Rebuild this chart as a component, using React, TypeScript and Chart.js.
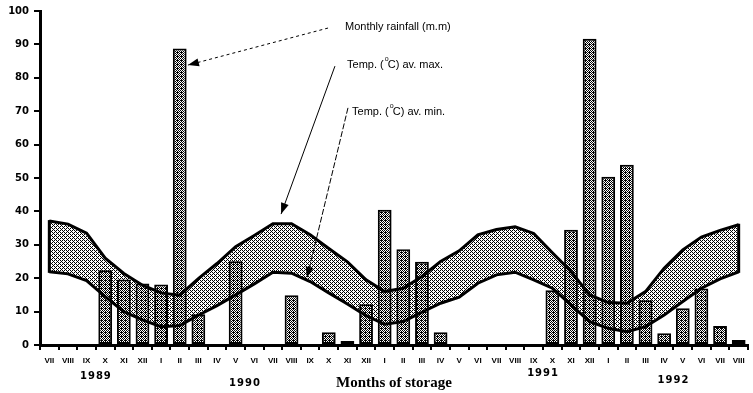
import React, { useEffect, useRef } from "react";
import { Chart, registerables } from "chart.js";

Chart.register(...registerables);

// ---- data ----
const months = [
  "VII", "VIII", "IX", "X", "XI", "XII",
  "I", "II", "III", "IV", "V", "VI", "VII", "VIII", "IX", "X", "XI", "XII",
  "I", "II", "III", "IV", "V", "VI", "VII", "VIII", "IX", "X", "XI", "XII",
  "I", "II", "III", "IV", "V", "VI", "VII", "VIII",
];
const years = ["1989", "1990", "1991", "1992"];
const yearAt = [2.5, 10.5, 26.5, 33.5];

const rainfall = [
  null, null, null, 22.4, 19.6, 18.4,
  18.1, 88.8, 9.2, 0.3, 25.1, 0.3, null, 14.9, null, 3.8, 1.2, 12.2,
  40.5, 28.7, 24.9, 3.8, 0.3, null, null, null, null, 16.4, 34.5, 91.7,
  50.4, 54.0, 13.4, 3.5, 11.0, 16.9, 5.7, 1.5,
];
const tempMax = [
  37.1, 36.2, 33.5, 26.0, 21.4, 17.9,
  15.6, 14.9, 19.9, 24.4, 29.4, 32.8, 36.3, 36.3, 33.0, 28.9, 24.9, 19.5,
  16.0, 17.0, 20.5, 25.0, 28.2, 33.0, 34.6, 35.4, 33.4, 27.6, 22.0, 15.0,
  12.7, 12.5, 16.0, 23.0, 28.5, 32.3, 34.3, 36.0,
];
const tempMin = [
  21.9, 21.3, 19.3, 14.5, 10.0, 7.5,
  5.5, 5.8, 8.9, 11.8, 15.0, 18.3, 21.8, 21.5, 19.0, 15.6, 12.3, 8.8,
  6.2, 7.0, 9.8, 12.5, 14.3, 18.5, 21.0, 21.8, 19.5, 17.0, 12.0, 7.0,
  5.0, 4.0, 5.5, 9.0, 13.0, 17.0, 19.8, 21.9,
];

const titleText = "Months of storage";
const rainLabel = "Monthly rainfall (m.m)";
const maxLabel = ["Temp. (", "o", "C) av. max."];
const minLabel = ["Temp. (", "o", "C) av. min."];

// annotation anchors (data units: category index, value)
const callouts = [
  { text: [rainLabel, "", ""], at: [15.87, 95.2], tail: [14.96, 94.9], tip: [7.44, 83.8], dash: [3, 3] },
  { text: maxLabel, at: [15.98, 83.8], tail: [15.33, 83.5], tip: [12.44, 39.2], dash: [] },
  { text: minLabel, at: [16.25, 69.8], tail: [16.03, 71.0], tip: [13.83, 20.1], dash: [6, 2] },
];

const bayer = [
  [0, 32, 8, 40, 2, 34, 10, 42],
  [48, 16, 56, 24, 50, 18, 58, 26],
  [12, 44, 4, 36, 14, 46, 6, 38],
  [60, 28, 52, 20, 62, 30, 54, 22],
  [3, 35, 11, 43, 1, 33, 9, 41],
  [51, 19, 59, 27, 49, 17, 57, 25],
  [15, 47, 7, 39, 13, 45, 5, 37],
  [63, 31, 55, 23, 61, 29, 53, 21],
];

function makePattern(density: number): CanvasPattern | string {
  const c = document.createElement("canvas");
  c.width = 8;
  c.height = 8;
  const g = c.getContext("2d");
  if (!g) return "#999";
  g.fillStyle = "#fff";
  g.fillRect(0, 0, 8, 8);
  g.fillStyle = "#000";
  for (let yy = 0; yy < 8; yy++)
    for (let xx = 0; xx < 8; xx++)
      if (bayer[yy][xx] < density * 64) g.fillRect(xx, yy, 1, 1);
  return g.createPattern(c, "repeat") || "#999";
}

const annotPlugin = {
  id: "annot",
  afterDatasetsDraw(chart: any) {
    const ctx = chart.ctx;
    const mMax = chart.getDatasetMeta(1).data;
    const mMin = chart.getDatasetMeta(2).data;
    ctx.save();
    ctx.strokeStyle = "#000";
    ctx.lineWidth = 3;
    [0, mMax.length - 1].forEach((i) => {
      ctx.beginPath();
      ctx.moveTo(mMax[i].x, mMax[i].y - 1);
      ctx.lineTo(mMin[i].x, mMin[i].y + 1);
      ctx.stroke();
    });
    ctx.restore();
  },
  afterDraw(chart: any) {
    const ctx = chart.ctx;
    const x = chart.scales.x;
    const y = chart.scales.y;
    const area = chart.chartArea;
    const px = (v: number) => x.getPixelForValue(v);
    const py = (v: number) => y.getPixelForValue(v);
    ctx.save();
    ctx.fillStyle = "#000";
    ctx.strokeStyle = "#000";

    ctx.font = "bold 10px 'DejaVu Sans'";
    ctx.textAlign = "center";
    ctx.textBaseline = "middle";
    try { (ctx as any).letterSpacing = "1px"; } catch (e) {}
    const yearY = [376, 383, 373, 380];
    years.forEach((t, i) => ctx.fillText(t, px(yearAt[i]), yearY[i]));
    try { (ctx as any).letterSpacing = "0px"; } catch (e) {}

    ctx.font = "bold 15px 'Liberation Serif'";
    ctx.fillText(titleText, (area.left + area.right) / 2, 383);

    callouts.forEach((c) => {
      const tx = px(c.tail[0]), ty = py(c.tail[1]);
      const hx = px(c.tip[0]), hy = py(c.tip[1]);
      ctx.lineWidth = 1;
      ctx.setLineDash(c.dash);
      ctx.beginPath();
      ctx.moveTo(tx, ty);
      ctx.lineTo(hx, hy);
      ctx.stroke();
      ctx.setLineDash([]);
      const ang = Math.atan2(hy - ty, hx - tx);
      const L = 11, W = 4;
      ctx.beginPath();
      ctx.moveTo(hx, hy);
      ctx.lineTo(hx - L * Math.cos(ang) + W * Math.sin(ang), hy - L * Math.sin(ang) - W * Math.cos(ang));
      ctx.lineTo(hx - L * Math.cos(ang) - W * Math.sin(ang), hy - L * Math.sin(ang) + W * Math.cos(ang));
      ctx.closePath();
      ctx.fill();

      let lx = px(c.at[0]);
      const ly = py(c.at[1]);
      ctx.textAlign = "left";
      ctx.textBaseline = "middle";
      ctx.font = "11px 'Liberation Sans'";
      ctx.fillText(c.text[0], lx, ly);
      lx += ctx.measureText(c.text[0]).width;
      if (c.text[1]) {
        ctx.font = "7px 'Liberation Sans'";
        ctx.fillText(c.text[1], lx + 1, ly - 6);
        lx += 4;
        ctx.font = "11px 'Liberation Sans'";
        ctx.fillText(c.text[2], lx, ly);
      }
    });
    ctx.restore();
  },
};

export default function App() {
  const ref = useRef<HTMLCanvasElement | null>(null);
  useEffect(() => {
    if (!ref.current) return;
    const barFill = makePattern(0.56);
    const bandFill = makePattern(0.36);
    const chart = new Chart(ref.current, {
      type: "bar",
      data: {
        labels: months,
        datasets: [
          {
            type: "bar",
            data: rainfall as any,
            backgroundColor: barFill as any,
            borderColor: "#000",
            borderWidth: 2,
            borderSkipped: false,
            barPercentage: 0.74,
            categoryPercentage: 1,
            order: 2,
          },
          {
            type: "line",
            data: tempMax,
            borderColor: "#000",
            borderWidth: 3,
            pointRadius: 0,
            tension: 0,
            fill: "+1",
            backgroundColor: bandFill as any,
            order: 1,
          },
          {
            type: "line",
            data: tempMin,
            borderColor: "#000",
            borderWidth: 3,
            pointRadius: 0,
            tension: 0,
            fill: false,
            order: 0,
          },
        ],
      },
      options: {
        responsive: false,
        animation: false,
        devicePixelRatio: 1,
        layout: { padding: { top: 11, right: 5, left: 0, bottom: 0 } },
        plugins: {
          legend: { display: false },
          tooltip: { enabled: false },
          filler: { drawTime: "beforeDatasetsDraw" } as any,
        },
        scales: {
          x: {
            offset: true,
            afterFit: (s: any) => { s.height = 48; },
            grid: {
              display: true,
              offset: true,
              drawOnChartArea: false,
              drawTicks: true,
              tickLength: 5,
              color: "#000",
              lineWidth: 2,
            },
            border: { display: true, color: "#000", width: 3 },
            ticks: {
              color: "#000",
              font: { family: "'Liberation Sans'", size: 8, weight: "bold" },
              padding: 6,
              autoSkip: false,
              maxRotation: 0,
            },
          },
          y: {
            min: 0,
            max: 100,
            afterFit: (s: any) => { s.width = 40; },
            grid: {
              display: true,
              drawOnChartArea: false,
              drawTicks: true,
              tickLength: 6,
              color: "#000",
              lineWidth: 2,
            },
            border: { display: true, color: "#000", width: 3 },
            ticks: {
              stepSize: 10,
              color: "#000",
              padding: 5,
              font: { family: "'DejaVu Sans'", size: 10, weight: "bold" },
            },
          },
        },
      },
      plugins: [annotPlugin],
    });
    return () => chart.destroy();
  }, []);
  return (
    <div style={{ position: "absolute", left: 0, top: 0, width: 753, height: 393, background: "#fff" }}>
      <canvas ref={ref} width={753} height={393} />
    </div>
  );
}
